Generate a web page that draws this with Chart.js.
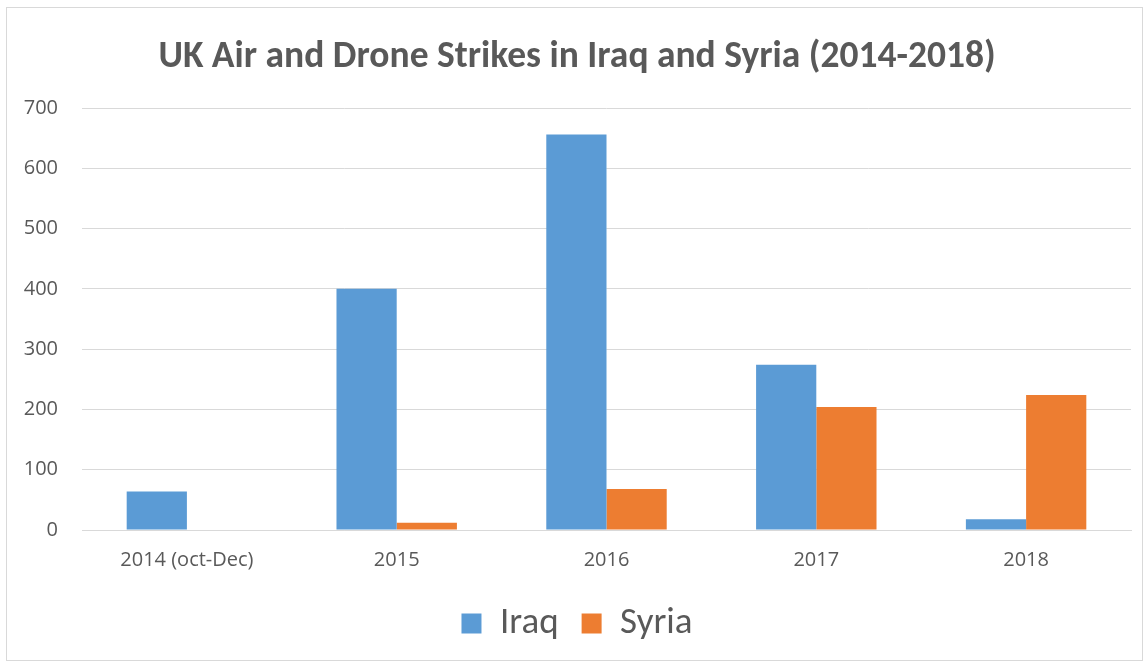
<!DOCTYPE html>
<html>
<head>
<meta charset="utf-8">
<script src="https://cdn.jsdelivr.net/npm/chart.js@4"></script>
<style>
  html, body { margin: 0; padding: 0; background: #fff; }
  #wrap { position: absolute; left: 6px; top: 7px; width: 1137px; height: 654px; border: 1px solid #d9d9d9; box-sizing: border-box; }
  canvas { display: block; }
</style>
</head>
<body>
<div id="wrap"><canvas id="chart"></canvas></div>
<script>
const categories = ["2014 (oct-Dec)", "2015", "2016", "2017", "2018"];
const iraq = [64, 400, 656, 274, 18];
const syria = [0, 12, 68, 204, 224];
const yTicks = [0, 100, 200, 300, 400, 500, 600, 700];

const textColor = "#595959";
const titleFont = "Calibri, Carlito, Lato, 'Open Sans', sans-serif";
const tickFont = "'Segoe UI', 'Open Sans', 'Liberation Sans', sans-serif";

new Chart(document.getElementById("chart"), {
  type: "bar",
  data: {
    labels: categories,
    datasets: [
      { label: "Iraq", data: iraq, backgroundColor: "#5b9bd5" },
      { label: "Syria", data: syria, backgroundColor: "#ed7d31" }
    ]
  },
  options: {
    responsive: true,
    maintainAspectRatio: false,
    animation: false,
    layout: { padding: { left: 16, right: 11, top: 10, bottom: 8 } },
    datasets: { bar: { categoryPercentage: 0.574, barPercentage: 1.0 } },
    scales: {
      x: {
        grid: { display: false },
        border: { color: "#d9d9d9" },
        ticks: { color: textColor, font: { family: tickFont, size: 20 }, padding: 10 }
      },
      y: {
        min: 0,
        max: 700,
        afterBuildTicks: axis => { axis.ticks = yTicks.map(v => ({ value: v })); },
        afterFit: axis => { axis.width = 59; },
        grid: { color: "#d9d9d9", drawTicks: false },
        border: { display: false },
        ticks: { color: textColor, font: { family: tickFont, size: 20 }, padding: 24 }
      }
    },
    plugins: {
      title: {
        display: true,
        text: "UK Air and Drone Strikes in Iraq and Syria (2014-2018)",
        color: textColor,
        font: { family: titleFont, size: 37.5, weight: "bold" },
        padding: { top: 17, bottom: 28 }
      },
      legend: {
        position: "bottom",
        labels: { color: textColor, font: { family: titleFont, size: 37 }, boxWidth: 20, boxHeight: 20, padding: 23 }
      },
      tooltip: { enabled: false }
    }
  }
});
</script>
</body>
</html>
